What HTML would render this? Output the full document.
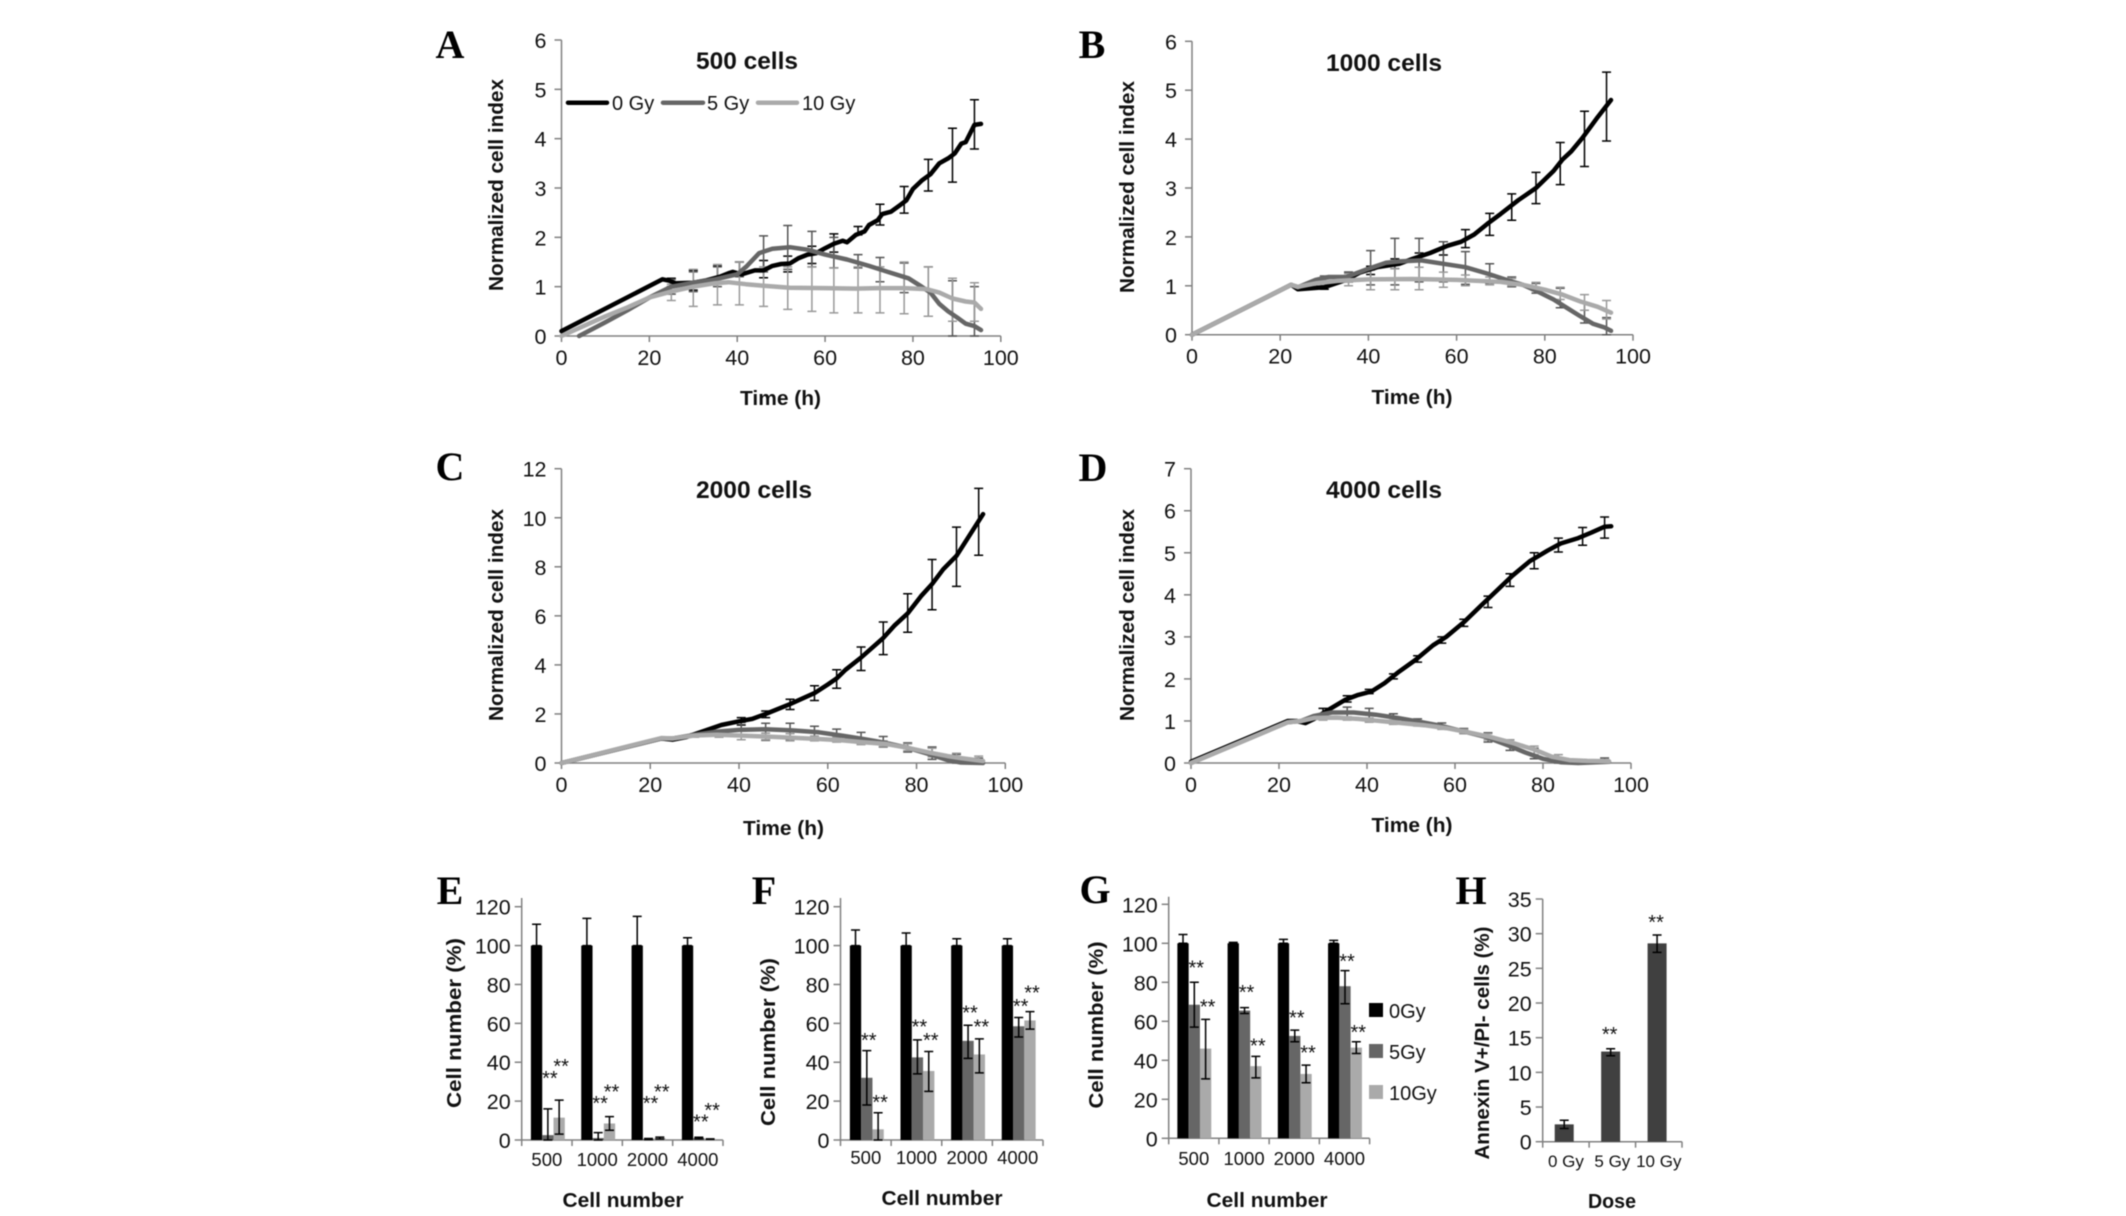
<!DOCTYPE html>
<html lang="en">
<head>
<meta charset="utf-8">
<title>Normalized cell index and cell number panels</title>
<style>
html,body{margin:0;padding:0;background:#fff;}
svg{display:block;filter:blur(0.45px);}
text{font-family:"Liberation Sans",Arial,sans-serif;fill:#111;}
.letter{font-family:"Liberation Serif","Times New Roman",serif;font-weight:bold;font-size:40px;text-anchor:middle;fill:#000;}
.title{font-weight:bold;font-size:24px;text-anchor:middle;}
.axt{font-weight:bold;font-size:20px;text-anchor:middle;}
.leg{font-size:20px;}
</style>
</head>
<body>
<svg id="fig" width="2126" height="1216" viewBox="0 0 2126 1216" xmlns="http://www.w3.org/2000/svg">
<g id="panel-a">
  <text class="letter" x="450" y="58">A</text>
  <text class="title" x="747" y="69" textLength="102" lengthAdjust="spacingAndGlyphs">500 cells</text>
  <text class="axt" x="780.5" y="405" textLength="81" lengthAdjust="spacingAndGlyphs">Time (h)</text>
  <text class="axt" transform="translate(503,185) rotate(-90)" textLength="212" lengthAdjust="spacingAndGlyphs">Normalized cell index</text>
  <g>
    <line x1="568" y1="102.7" x2="607" y2="102.7" stroke="#000" stroke-width="4.5" stroke-linecap="round"/>
    <text class="leg" x="612" y="110">0 Gy</text>
    <line x1="663" y1="102.7" x2="703" y2="102.7" stroke="#666" stroke-width="4.5" stroke-linecap="round"/>
    <text class="leg" x="707" y="110">5 Gy</text>
    <line x1="758" y1="102.7" x2="797" y2="102.7" stroke="#aaa" stroke-width="4.5" stroke-linecap="round"/>
    <text class="leg" x="802" y="110">10 Gy</text>
  </g>
</g>
<g id="panel-b">
  <text class="letter" x="1092" y="58">B</text>
  <text class="title" x="1384" y="71" textLength="116" lengthAdjust="spacingAndGlyphs">1000 cells</text>
  <text class="axt" x="1412" y="404" textLength="81" lengthAdjust="spacingAndGlyphs">Time (h)</text>
  <text class="axt" transform="translate(1134,187) rotate(-90)" textLength="212" lengthAdjust="spacingAndGlyphs">Normalized cell index</text>
</g>
<g id="panel-c">
  <text class="letter" x="450" y="480">C</text>
  <text class="title" x="754" y="498" textLength="116" lengthAdjust="spacingAndGlyphs">2000 cells</text>
  <text class="axt" x="783.5" y="835" textLength="81" lengthAdjust="spacingAndGlyphs">Time (h)</text>
  <text class="axt" transform="translate(503,615) rotate(-90)" textLength="212" lengthAdjust="spacingAndGlyphs">Normalized cell index</text>
</g>
<g id="panel-d">
  <text class="letter" x="1093" y="481">D</text>
  <text class="title" x="1384" y="498" textLength="116" lengthAdjust="spacingAndGlyphs">4000 cells</text>
  <text class="axt" x="1412" y="832" textLength="81" lengthAdjust="spacingAndGlyphs">Time (h)</text>
  <text class="axt" transform="translate(1134,615) rotate(-90)" textLength="212" lengthAdjust="spacingAndGlyphs">Normalized cell index</text>
</g>
<g id="panel-e">
  <text class="letter" x="450" y="904">E</text>
  <text class="axt" x="623" y="1207" textLength="121" lengthAdjust="spacingAndGlyphs">Cell number</text>
  <text class="axt" transform="translate(461,1023) rotate(-90)" textLength="170" lengthAdjust="spacingAndGlyphs">Cell number (%)</text>
</g>
<g id="panel-f">
  <text class="letter" x="764" y="904">F</text>
  <text class="axt" x="942" y="1205" textLength="121" lengthAdjust="spacingAndGlyphs">Cell number</text>
  <text class="axt" transform="translate(775,1042) rotate(-90)" textLength="168" lengthAdjust="spacingAndGlyphs">Cell number (%)</text>
</g>
<g id="panel-g">
  <text class="letter" x="1095" y="903">G</text>
  <text class="axt" x="1267" y="1207" textLength="121" lengthAdjust="spacingAndGlyphs">Cell number</text>
  <text class="axt" transform="translate(1103,1025) rotate(-90)" textLength="167" lengthAdjust="spacingAndGlyphs">Cell number (%)</text>
  <g>
    <rect x="1369" y="1003" width="14" height="14" fill="#000"/>
    <text class="leg" x="1389" y="1018">0Gy</text>
    <rect x="1369" y="1044" width="14" height="14" fill="#666"/>
    <text class="leg" x="1389" y="1059">5Gy</text>
    <rect x="1369" y="1085" width="14" height="14" fill="#aaa"/>
    <text class="leg" x="1389" y="1100">10Gy</text>
  </g>
</g>
<g id="panel-h">
  <text class="letter" x="1471" y="904">H</text>
  <text class="axt" x="1612" y="1208" textLength="48" lengthAdjust="spacingAndGlyphs">Dose</text>
  <text class="axt" transform="translate(1489,1043) rotate(-90)" textLength="233" lengthAdjust="spacingAndGlyphs">Annexin V+/PI- cells (%)</text>
</g>
</svg>
<script>
// ---------- shared tick labels ----------
var timeTicks = [0, 20, 40, 60, 80, 100];
var yTicksA = [0, 1, 2, 3, 4, 5, 6];
var yTicksB = [0, 1, 2, 3, 4, 5, 6];
var yTicksC = [0, 2, 4, 6, 8, 10, 12];
var yTicksD = [0, 1, 2, 3, 4, 5, 6, 7];
var percentTicks = [0, 20, 40, 60, 80, 100, 120];
var annexinTicks = [0, 5, 10, 15, 20, 25, 30, 35];
var cellCategories = ['500', '1000', '2000', '4000'];
var doseCategories = ['0 Gy', '5 Gy', '10 Gy'];
var errTimes = [25, 30, 35.5, 40.5, 46, 51.5, 57, 62, 67.5, 72.5, 78, 83.5, 89, 94];

// ---------- panel A ----------
var aT0 = [0,23,24.5,26,30,33,36,38,39,41,44,46,48,50,52,54,56,58,60,62,64,65,67,69,70,72,73,75,77,78.5,80,82,84,86,88,89.5,91,92,94,95.5];
var aV0 = [0.1,1.15,1.12,1.07,1.08,1.13,1.2,1.27,1.3,1.25,1.33,1.33,1.42,1.46,1.47,1.58,1.65,1.68,1.78,1.87,1.93,1.9,2.05,2.12,2.25,2.35,2.47,2.52,2.65,2.75,2.98,3.15,3.28,3.5,3.6,3.7,3.9,3.93,4.28,4.3];
var aT5 = [4,10,15,20,25,30,35,40,42,45,48,52,56,60,65,70,75,79,82,84,86,88,90,92,94,95.5];
var aV5 = [0,0.28,0.52,0.78,1,1.08,1.15,1.25,1.4,1.68,1.77,1.8,1.75,1.65,1.55,1.42,1.28,1.17,1,0.88,0.65,0.5,0.38,0.25,0.2,0.12];
var aT10 = [0,5,10,15,20,25,30,35,38,42,46,52,60,67,72,78,83,86,89,92,94,95.5];
var aV10 = [0,0.2,0.4,0.58,0.78,0.9,1,1.07,1.09,1.05,1.02,0.98,0.97,0.96,0.97,0.97,0.95,0.88,0.76,0.7,0.68,0.55];
var aLow0 = [1,0.93,1.05,1.25,1.18,1.3,1.47,1.7,2.05,2.25,2.49,2.94,3.12,3.79];
var aHigh0 = [1.17,1.33,1.42,1.5,1.53,1.62,1.82,2.07,2.22,2.67,3.03,3.58,4.21,4.79];
var aLow5 = [0.85,0.9,1,1.2,1.3,1.35,1.4,1.38,1.38,1.1,0.88,0.4,0,0];
var aHigh5 = [1.15,1.3,1.4,1.5,2.03,2.24,2.12,2,1.65,1.59,1.48,1.4,1.12,1];
var aLow10 = [0.72,0.6,0.63,0.63,0.6,0.54,0.5,0.47,0.47,0.47,0.45,0.4,0.3,0.3];
var aHigh10 = [1.05,1.35,1.45,1.5,1.4,1.4,1.4,1.38,1.4,1.4,1.5,1.4,1.17,1.08];

// ---------- panel B ----------
var bT0 = [0,22.5,24,30,35,38,42,47,50,54,58,61,64,67,70,74,78,82,84,86,88.5,92,95];
var bV0 = [0,1.02,0.93,0.97,1.12,1.27,1.38,1.45,1.55,1.67,1.82,1.9,2.05,2.27,2.47,2.75,3,3.35,3.58,3.75,4.02,4.45,4.8];
var bT5 = [0,22.5,24,28,31,35,40,44,47,52,57,62,67,72,75,78,82,85,88,91,93.5,95];
var bV5 = [0,1.02,0.97,1.12,1.18,1.18,1.35,1.47,1.5,1.52,1.45,1.38,1.25,1.1,1.02,0.9,0.72,0.55,0.38,0.22,0.15,0.08];
var bT10 = [0,22.5,24,28,33,40,50,60,70,75,80,84,88,92,95];
var bV10 = [0,1.02,0.98,1.05,1.1,1.13,1.14,1.12,1.08,1.02,0.92,0.82,0.68,0.57,0.45];
var bLow0 = [null,0.93,1.08,1.23,1.35,1.5,1.63,1.78,2.03,2.34,2.68,3.07,3.44,3.96];
var bHigh0 = [null,0.97,1.28,1.4,1.55,1.67,1.9,2.15,2.48,2.88,3.32,3.93,4.57,5.37];
var bLow5 = [null,1.1,1.08,1.02,1.02,1.08,1.08,1.03,1.05,0.98,0.85,0.55,0.24,0];
var bHigh5 = [null,1.2,1.28,1.72,1.97,1.97,1.9,1.7,1.45,1.18,1.05,0.95,0.65,0.35];
var bLow10 = [null,1,1,0.92,0.92,0.92,0.97,1,1.02,1,0.9,0.72,0.5,0.32];
var bHigh10 = [null,1.18,1.25,1.32,1.35,1.38,1.28,1.22,1.18,1.15,1.07,0.97,0.82,0.7];

// ---------- panel C ----------
var cT0 = [0,22.5,25,28,32,36,40,43,46,51.5,57,60,62,64,67.5,72.5,75,78,81,83.5,86,89,92,95];
var cV0 = [0,1,0.95,1.05,1.3,1.55,1.7,1.8,2,2.4,2.85,3.2,3.45,3.8,4.3,5.1,5.6,6.1,6.8,7.3,7.9,8.45,9.3,10.15];
var cT5 = [0,22.5,25,30,35,40,46,52,58,63,68,73,78,83,87,90,95];
var cV5 = [0,1,1,1.15,1.28,1.35,1.38,1.33,1.25,1.12,0.98,0.82,0.62,0.35,0.12,0.02,0];
var cT10 = [0,22.5,25,30,35,40,46,52,58,63,68,73,78,83,87,90,95];
var cV10 = [0,1.02,1,1.12,1.15,1.12,1.08,1.03,0.98,0.93,0.85,0.78,0.62,0.42,0.28,0.2,0.08];
var cLow0 = [null,null,null,1.55,1.85,2.18,2.55,3.05,3.77,4.42,5.33,6.25,7.2,8.47];
var cHigh0 = [null,null,null,1.85,2.12,2.6,3.15,3.8,4.73,5.75,6.9,8.3,9.62,11.2];
var cLow5 = [null,null,null,1.1,0.92,0.95,0.98,0.92,0.8,0.65,0.45,0.15,0,0];
var cHigh5 = [null,null,null,1.65,1.62,1.62,1.5,1.38,1.25,1.08,0.82,0.65,0.35,0.2];
var cLow10 = [null,1.05,1.05,0.95,0.95,0.9,0.9,0.85,0.75,0.68,0.5,0.25,0.1,0];
var cHigh10 = [null,1.2,1.25,1.3,1.22,1.2,1.1,1.05,1,0.9,0.78,0.6,0.4,0.28];

// ---------- panel D ----------
var dT0 = [0,22,24,26,28,31,35,38,41,44,47,51,55,58,62,66,70,73,77,81,84,88,91,94,95.5];
var dV0 = [0.03,1,1,0.95,1.05,1.25,1.5,1.62,1.7,1.9,2.15,2.45,2.8,3,3.35,3.75,4.15,4.45,4.8,5.05,5.22,5.35,5.48,5.62,5.63];
var dT5 = [0,22,25,28,32,37,42,47,52,57,62,67,72,76,80,84,88,95];
var dV5 = [0,0.97,1,1.12,1.2,1.2,1.15,1.07,0.98,0.88,0.75,0.62,0.42,0.25,0.1,0.02,0,0.03];
var dT10 = [0,22,25,28,33,38,43,48,53,58,63,68,73,78,82,86,90,95];
var dV10 = [0,0.97,1,1.07,1.08,1.05,1,0.95,0.9,0.83,0.73,0.62,0.48,0.32,0.15,0.07,0.05,0.04];
var dLow0 = [null,1.15,1.45,1.65,2,2.4,2.85,3.25,3.7,4.2,4.62,5.02,5.18,5.35];
var dHigh0 = [null,1.3,1.6,1.75,2.12,2.55,3,3.42,3.97,4.5,5,5.35,5.6,5.85];
var dLow5 = [null,null,1.1,1.02,1,0.92,0.82,0.7,0.5,0.3,0.1,0,null,0];
var dHigh5 = [null,null,1.33,1.3,1.17,1.05,0.95,0.82,0.72,0.55,0.35,0.1,null,0.12];
var dLow10 = [null,1.02,1.02,0.97,0.92,0.88,0.8,0.7,0.55,0.4,0.2,0.05,0.02,0];
var dHigh10 = [null,1.12,1.1,1.07,1.02,0.98,0.88,0.8,0.7,0.55,0.4,0.2,0.08,0.08];

// ---------- panel E ----------
var eVal0 = [100,100,100,100];
var eVal5 = [2.5,1,0.5,1];
var eVal10 = [11.5,8.5,1,0.5];
var eLow0 = [100,100,100,100];
var eHigh0 = [111,114,115,104];
var eLow5 = [0,0,0.2,0.6];
var eHigh5 = [16,3.8,0.8,1.4];
var eLow10 = [3,5,0.5,0.4];
var eHigh10 = [20.5,12,1.5,0.6];
var eStar5 = [33,20,20,10.5];
var eStar10 = [39,26,26,16.5];

// ---------- panel F ----------
var fVal0 = [100,100,100,100];
var fVal5 = [32,42.5,51,58.5];
var fVal10 = [5.5,35.5,44,61.5];
var fLow0 = [100,100,100,100];
var fHigh0 = [108,106.5,103.5,103.5];
var fLow5 = [18,34,42,53];
var fHigh5 = [46,51.5,59,63];
var fLow10 = [0,25,34.5,57];
var fHigh10 = [14,45.5,52,66];
var fStar5 = [52.5,59.5,66.5,70];
var fStar10 = [20.5,52.5,59.5,77];

// ---------- panel G ----------
var gVal0 = [100,100,100,100];
var gVal5 = [68.5,65.5,52.5,78];
var gVal10 = [46,37,33,46.5];
var gLow0 = [100,100,100,100];
var gHigh0 = [104.5,100.5,102,101.5];
var gLow5 = [57,64,49.5,69];
var gHigh5 = [80,67,55.5,86];
var gLow10 = [30.5,31,28.5,43.5];
var gHigh10 = [61,42,37.5,49.5];
var gStar5 = [88.5,76,63,92];
var gStar10 = [68.5,48.5,45,55.5];

// ---------- panel H ----------
var hVal = [2.5,13,28.6];
var hLow = [1.9,12.4,27.3];
var hHigh = [3.1,13.4,29.8];
var hStars = [null,15.8,32];

var NS = 'http://www.w3.org/2000/svg';
var AXIS = '#808080';

function add(parent, tag, attrs, txt) {
  var el = document.createElementNS(NS, tag);
  for (var k in attrs) { el.setAttribute(k, attrs[k]); }
  if (txt !== undefined) { el.textContent = txt; }
  parent.appendChild(el);
  return el;
}

function drawAxes(g, id, f, yTicks, yScale, xPositions) {
  var ya = add(g, 'line', {x1: f.x0, x2: f.x0, y1: f.axisTop, y2: f.y0, stroke: AXIS, 'stroke-width': 1.5});
  
  
  var xa = add(g, 'line', {x1: f.x0, x2: f.x1, y1: f.y0, y2: f.y0, stroke: AXIS, 'stroke-width': 1.5});
  
  
  yTicks.forEach(function (v) {
    var y = yScale(v);
    var tk = add(g, 'line', {x1: f.x0 - 7, x2: f.x0, y1: y, y2: y, stroke: AXIS, 'stroke-width': 1.5});
    
    
    var lb = add(g, 'text', {x: f.x0 - f.labelGap, y: y + 8, 'text-anchor': 'end', 'font-size': 21.5}, String(v));
    
    
  });
  xPositions.forEach(function (x) {
    var tk = add(g, 'line', {x1: x, x2: x, y1: f.y0, y2: f.y0 + 6, stroke: AXIS, 'stroke-width': 1.5});
    
    
  });
}

function drawErr(g, id, x, yLow, yHigh, color, cap) {
  var p = add(g, 'path', {d: 'M' + (x - cap) + ' ' + yHigh + 'H' + (x + cap) + 'M' + x + ' ' + yHigh + 'V' + yLow + 'M' + (x - cap) + ' ' + yLow + 'H' + (x + cap), fill: 'none', stroke: color, 'stroke-width': 1.5});
  
  
}

function lineChart(id, f, yTicks, series) {
  var g = document.getElementById(id);
  var yMax = yTicks[yTicks.length - 1];
  function xs(t) { return f.x0 + t / 100 * (f.x1 - f.x0); }
  function ys(v) { return f.y0 - v / yMax * (f.y0 - f.yTop); }
  f.axisTop = f.yTop;
  f.labelGap = 15;
  drawAxes(g, id, f, yTicks, ys, timeTicks.map(xs));
  timeTicks.forEach(function (t) {
    var lb = add(g, 'text', {x: xs(t), y: f.y0 + 29, 'text-anchor': 'middle', 'font-size': 21.5}, String(t));
    
    
  });
  series.forEach(function (s) {
    errTimes.forEach(function (t, i) {
      if (s.low[i] === null) { return; }
      drawErr(g, id + '-' + s.name + '-error-bar', xs(t), ys(s.low[i]), ys(s.high[i]), s.err, 4.5);
    });
  });
  series.forEach(function (s) {
    var pts = s.t.map(function (t, i) { return xs(t).toFixed(1) + ',' + ys(s.v[i]).toFixed(1); }).join(' ');
    var line = add(g, 'polyline', {points: pts, fill: 'none', stroke: s.color, 'stroke-width': 4.5, 'stroke-linejoin': 'round', 'stroke-linecap': 'round'});
    
    
  });
}

function barChart(id, f, yTicks, cats, series, opts) {
  var g = document.getElementById(id);
  var yMax = yTicks[yTicks.length - 1];
  var n = cats.length;
  var gw = (f.x1 - f.x0) / n;
  function ys(v) { return f.y0 - v / yMax * (f.y0 - f.yTop); }
  function groupX(i) { return f.x0 + i * gw; }
  f.labelGap = 11;
  var edges = [];
  for (var e = 0; e <= n; e++) { edges.push(groupX(e)); }
  drawAxes(g, id, f, yTicks, ys, edges);
  cats.forEach(function (c, i) {
    var lb = add(g, 'text', {x: groupX(i) + gw / 2, y: f.labelY, 'text-anchor': 'middle', 'font-size': opts.catSize}, c);
    
    
  });
  series.forEach(function (s, si) {
    s.v.forEach(function (v, i) {
      var x = groupX(i) + gw / 2 + opts.shift + (si - (series.length - 1) / 2) * opts.bw;
      var b = add(g, 'rect', {x: x - opts.bw / 2, y: ys(v), width: opts.bw, height: f.y0 - ys(v), fill: s.color});
      
      
    });
  });
  series.forEach(function (s, si) {
    s.v.forEach(function (v, i) {
      var x = groupX(i) + gw / 2 + opts.shift + (si - (series.length - 1) / 2) * opts.bw;
      drawErr(g, id + '-error-bar-' + s.name, x, ys(s.low[i]), ys(s.high[i]), '#000', 4.5);
      if (s.star && s.star[i] !== null) {
        var st = add(g, 'text', {x: x + opts.starDx, y: ys(s.star[i]) + 9, 'text-anchor': 'middle', 'font-size': 20}, '**');
        
        
      }
    });
  });
}

var C0 = '#000', C5 = '#666', C10 = '#aaa', E0 = '#000', E5 = '#555', E10 = '#999';

lineChart('panel-a', {x0: 561.5, x1: 1000.8, y0: 336, yTop: 40}, yTicksA, [
  {name: '0-gy', color: C0, err: E0, t: aT0, v: aV0, low: aLow0, high: aHigh0},
  {name: '5-gy', color: C5, err: E5, t: aT5, v: aV5, low: aLow5, high: aHigh5},
  {name: '10-gy', color: C10, err: E10, t: aT10, v: aV10, low: aLow10, high: aHigh10}
]);
lineChart('panel-b', {x0: 1192, x1: 1633, y0: 334.7, yTop: 41.3}, yTicksB, [
  {name: '0-gy', color: C0, err: E0, t: bT0, v: bV0, low: bLow0, high: bHigh0},
  {name: '5-gy', color: C5, err: E5, t: bT5, v: bV5, low: bLow5, high: bHigh5},
  {name: '10-gy', color: C10, err: E10, t: bT10, v: bV10, low: bLow10, high: bHigh10}
]);
lineChart('panel-c', {x0: 561.5, x1: 1005.3, y0: 763, yTop: 468.7}, yTicksC, [
  {name: '0-gy', color: C0, err: E0, t: cT0, v: cV0, low: cLow0, high: cHigh0},
  {name: '5-gy', color: C5, err: E5, t: cT5, v: cV5, low: cLow5, high: cHigh5},
  {name: '10-gy', color: C10, err: E10, t: cT10, v: cV10, low: cLow10, high: cHigh10}
]);
lineChart('panel-d', {x0: 1191, x1: 1631, y0: 763, yTop: 468.7}, yTicksD, [
  {name: '0-gy', color: C0, err: E0, t: dT0, v: dV0, low: dLow0, high: dHigh0},
  {name: '5-gy', color: C5, err: E5, t: dT5, v: dV5, low: dLow5, high: dHigh5},
  {name: '10-gy', color: C10, err: E10, t: dT10, v: dV10, low: dLow10, high: dHigh10}
]);
barChart('panel-e', {x0: 521.7, x1: 723, y0: 1140, yTop: 906.7, axisTop: 898, labelY: 1166}, percentTicks, cellCategories, [
  {name: '0-gy', color: C0, v: eVal0, low: eLow0, high: eHigh0},
  {name: '5-gy', color: C5, v: eVal5, low: eLow5, high: eHigh5, star: eStar5},
  {name: '10-gy', color: C10, v: eVal10, low: eLow10, high: eHigh10, star: eStar10}
], {bw: 11.3, catSize: 18.5, shift: 1, starDx: 2});
barChart('panel-f', {x0: 840.5, x1: 1043, y0: 1140, yTop: 906.7, axisTop: 898, labelY: 1164}, percentTicks, cellCategories, [
  {name: '0-gy', color: C0, v: fVal0, low: fLow0, high: fHigh0},
  {name: '5-gy', color: C5, v: fVal5, low: fLow5, high: fHigh5, star: fStar5},
  {name: '10-gy', color: C10, v: fVal10, low: fLow10, high: fHigh10, star: fStar10}
], {bw: 11.3, catSize: 18.5, shift: 1, starDx: 2});
barChart('panel-g', {x0: 1168.7, x1: 1369.6, y0: 1138.3, yTop: 904.3, axisTop: 896.7, labelY: 1165}, percentTicks, cellCategories, [
  {name: '0-gy', color: C0, v: gVal0, low: gLow0, high: gHigh0},
  {name: '5-gy', color: C5, v: gVal5, low: gLow5, high: gHigh5, star: gStar5},
  {name: '10-gy', color: C10, v: gVal10, low: gLow10, high: gHigh10, star: gStar10}
], {bw: 11.3, catSize: 18.5, shift: 0.5, starDx: 2});
barChart('panel-h', {x0: 1542.7, x1: 1682, y0: 1141.7, yTop: 899, axisTop: 899, labelY: 1167}, annexinTicks, doseCategories, [
  {name: 'annexin', color: '#404040', v: hVal, low: hLow, high: hHigh, star: hStars}
], {bw: 19, catSize: 17, shift: -1.7, starDx: -1});
</script>
</body>
</html>
